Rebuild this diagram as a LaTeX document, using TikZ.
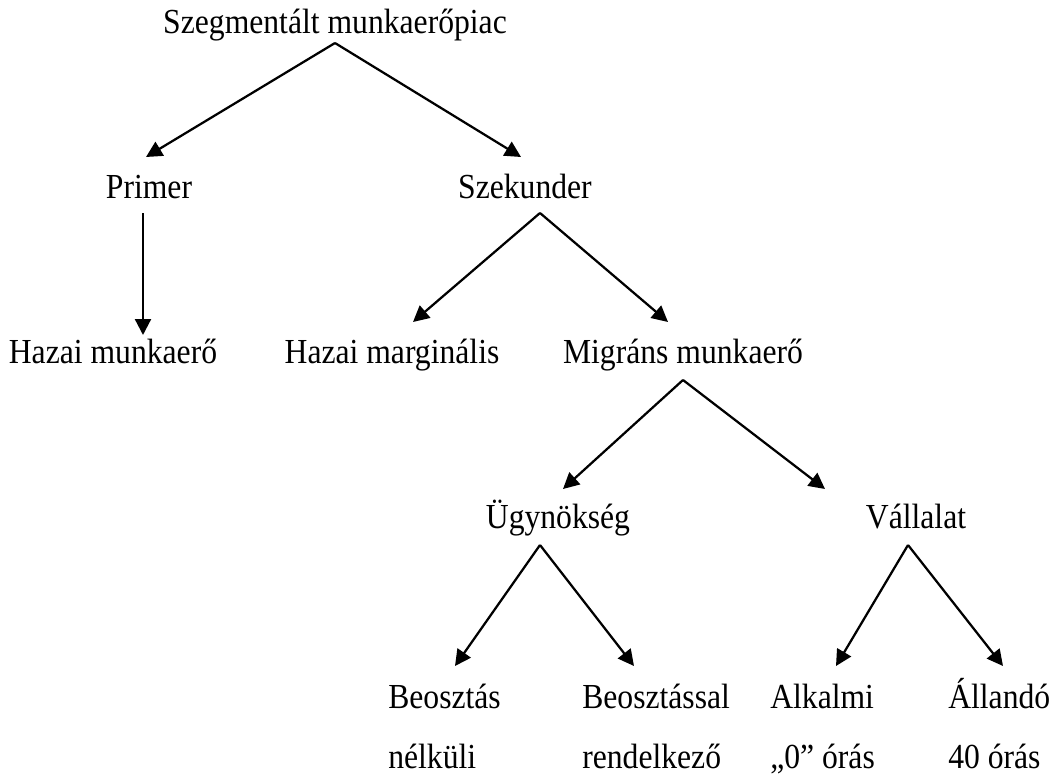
\documentclass[tikz,border=0pt]{standalone}
\usepackage{fontspec}
\setmainfont{Liberation Serif}[FakeStretch=0.9]
\usetikzlibrary{arrows.meta,calc}
\begin{document}
\begin{tikzpicture}[x=0.025cm,y=-0.025cm,
        lbl/.style={inner sep=0pt,font=\fontsize{25}{29}\selectfont},
        arr/.style={line width=1.6pt,-{Triangle[length=0.4cm,width=0.4cm]}}]
        \useasboundingbox (0,0) rectangle (1064,776);
        %% levels
        \node[lbl,anchor=base] (root) at (335,33) {Szegmentált munkaerőpiac};
        \node[lbl,anchor=base] (prim) at (149,198) {Primer};
        \node[lbl,anchor=base] (szek) at (525,198) {Szekunder};
        \node[lbl,anchor=base] (hmunk) at (113,363) {Hazai munkaerő};
        \node[lbl,anchor=base] (hmarg) at (392,363) {Hazai marginális};
        \node[lbl,anchor=base] (migr) at (683,363) {Migráns munkaerő};
        \node[lbl,anchor=base] (ugyn) at (558,528) {Ügynökség};
        \node[lbl,anchor=base] (vall) at (916,528) {Vállalat};
        %% bottom row, two lines each
        \node[lbl,anchor=base west] (beo) at (388,708) {Beosztás};
        \node[lbl,anchor=base west] (beos) at (582,708) {Beosztással};
        \node[lbl,anchor=base west] (alk) at (770,708) {Alkalmi};
        \node[lbl,anchor=base west] (all) at (948,708) {Állandó};
        \node[lbl,anchor=base west] (nelk) at (388,768) {nélküli};
        \node[lbl,anchor=base west] (rend) at (582,768) {rendelkező};
        \node[lbl,anchor=base west] (nulla) at (770,768) {„0” órás};
        \node[lbl,anchor=base west] (negyv) at (948,768) {40 órás};
        %% arrows
        \draw[arr] ($(root.base)+(0,10)$) -- ($(prim.base)+(-3,-41)$);
        \draw[arr] ($(root.base)+(0,10)$) -- ($(szek.base)+(-4,-41)$);
        \draw[arr] ($(prim.base)+(-6,15)$) -- ($(hmunk.base)+(30,-28)$);
        \draw[arr] ($(szek.base)+(15,15)$) -- ($(hmarg.base)+(21,-41)$);
        \draw[arr] ($(szek.base)+(15,15)$) -- ($(migr.base)+(-15,-41)$);
        \draw[arr] ($(migr.base)+(0,17)$) -- ($(ugyn.base)+(5,-39)$);
        \draw[arr] ($(migr.base)+(0,17)$) -- ($(vall.base)+(-91,-39)$);
        \draw[arr] ($(ugyn.base)+(-18,17)$) -- ($(beo.base west)+(67,-42)$);
        \draw[arr] ($(ugyn.base)+(-18,17)$) -- ($(beos.base west)+(52,-42)$);
        \draw[arr] ($(vall.base)+(-8,17)$) -- ($(alk.base west)+(66,-42)$);
        \draw[arr] ($(vall.base)+(-8,17)$) -- ($(all.base west)+(55,-42)$);
\end{tikzpicture}
\end{document}
